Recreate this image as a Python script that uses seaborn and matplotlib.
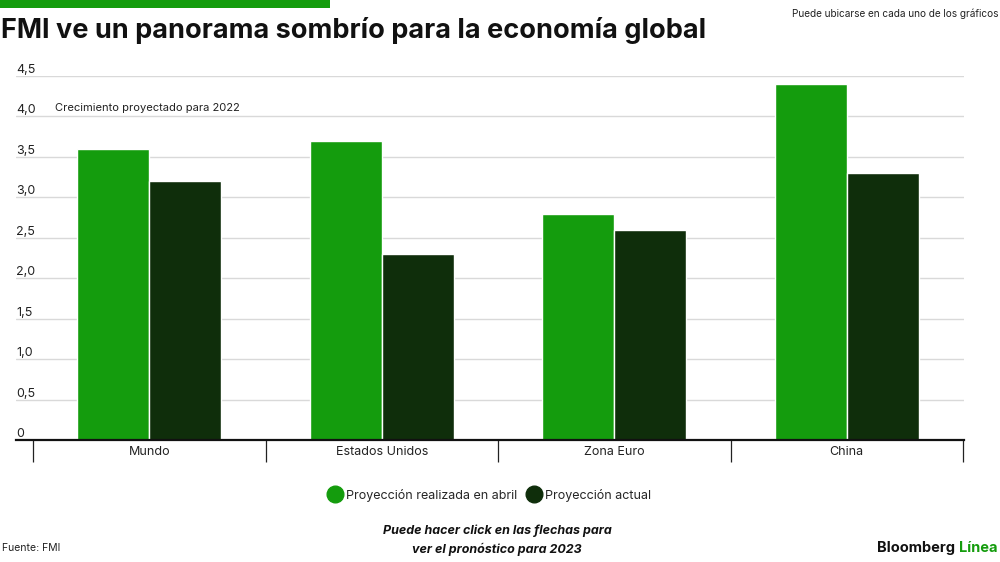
import matplotlib
matplotlib.use("Agg")
import matplotlib.pyplot as plt
import seaborn as sns
import pandas as pd
from matplotlib.lines import Line2D
from matplotlib.patches import Rectangle

categories = ["Mundo", "Estados Unidos", "Zona Euro", "China"]
abril = [3.6, 3.7, 2.8, 4.4]
actual = [3.2, 2.3, 2.6, 3.3]
series_names = ["Proyección realizada en abril", "Proyección actual"]
yticks = [0, 0.5, 1.0, 1.5, 2.0, 2.5, 3.0, 3.5, 4.0, 4.5]
ytick_labels = ["0", "0,5", "1,0", "1,5", "2,0", "2,5", "3,0", "3,5", "4,0", "4,5"]

GREEN = "#149c0d"
DARK = "#0f2e0b"

df = pd.DataFrame({
    "cat": categories * 2,
    "val": abril + actual,
    "serie": [series_names[0]] * 4 + [series_names[1]] * 4,
})

sns.set_theme(style="white")
plt.rcParams["font.family"] = ["Inter", "DejaVu Sans"]

fig = plt.figure(figsize=(10, 5.62), dpi=100)
W, H = 1000, 562
ax_left, ax_right = 16, 964
ax_bot, ax_top = 440, 76
ax = fig.add_axes([ax_left / W, 1 - ax_bot / H, (ax_right - ax_left) / W, (ax_bot - ax_top) / H])

sns.barplot(data=df, x="cat", y="val", hue="serie", order=categories,
            hue_order=series_names, palette=[GREEN, DARK], width=0.62, saturation=1,
            edgecolor="white", linewidth=1.0, ax=ax, legend=False, zorder=3)

cat_w = (963 - 33) / 4
xl = -0.5 - (33 - ax_left) / cat_w
xr = 3.5 + (ax_right - 963) / cat_w
ax.set_xlim(xl, xr)
ax.set_ylim(0, 4.5)
ax.set_xlabel("")
ax.set_ylabel("")

for s in ["top", "right", "left"]:
    ax.spines[s].set_visible(False)
ax.spines["bottom"].set_color("#111111")
ax.spines["bottom"].set_linewidth(1.6)
ax.spines["bottom"].set_zorder(5)

ax.set_yticks(yticks)
ax.set_yticklabels(ytick_labels)
ax.yaxis.grid(True, color="#d9d9d9", linewidth=1.0, zorder=0)
ax.tick_params(axis="y", length=0, pad=0, labelsize=9, labelcolor="#222222")
for lab in ax.get_yticklabels():
    lab.set_horizontalalignment("left")
    lab.set_verticalalignment("bottom")

ax.set_xticks(range(len(categories)))
ax.set_xticklabels(categories)
ax.set_xticks([i - 0.5 for i in range(len(categories) + 1)], minor=True)
ax.tick_params(axis="x", which="major", length=0, pad=4, labelsize=9, labelcolor="#222222")
ax.tick_params(axis="x", which="minor", length=16, width=0.9, color="#222222", direction="out", bottom=True)

ax.text((55 - ax_left) / (ax_right - ax_left), 4.1, "Crecimiento proyectado para 2022",
        transform=ax.get_yaxis_transform(), fontsize=8, color="#222222", va="center", ha="left")

# header
fig.patches.append(Rectangle((0, 1 - 8 / H), 330 / W, 8 / H, transform=fig.transFigure,
                             facecolor=GREEN, edgecolor="none"))
fig.text(0.001, 1 - 30 / H, "FMI ve un panorama sombrío para la economía global",
         fontsize=19.5, fontweight="bold", color="#111111", va="center", ha="left")
fig.text(0.998, 1 - 14 / H, "Puede ubicarse en cada uno de los gráficos",
         fontsize=7.2, color="#222222", va="center", ha="right")

# legend
handles = [Line2D([], [], marker="o", linestyle="none", markersize=12, color=GREEN),
           Line2D([], [], marker="o", linestyle="none", markersize=12, color=DARK)]
fig.legend(handles, series_names, loc="center", bbox_to_anchor=(0.49, 1 - 495 / H), ncol=2,
           frameon=False, fontsize=9, handletextpad=0.4, columnspacing=0.8, handlelength=1.0)

# footer
fig.text(0.002, 1 - 548 / H, "Fuente: FMI", fontsize=7.5, color="#222222", va="center", ha="left")
fig.text(0.497, 1 - 540 / H, "Puede hacer click en las flechas para\nver el pronóstico para 2023",
         fontsize=9, fontweight="bold", fontstyle="italic", color="#111111",
         va="center", ha="center", linespacing=1.55)
fig.text(0.955, 1 - 548 / H, "Bloomberg", fontsize=10.5, fontweight="bold", color="#111111",
         va="center", ha="right")
fig.text(0.998, 1 - 548 / H, "Línea", fontsize=10.5, fontweight="bold", color=GREEN,
         va="center", ha="right")

fig.savefig("out.png", dpi=100)
